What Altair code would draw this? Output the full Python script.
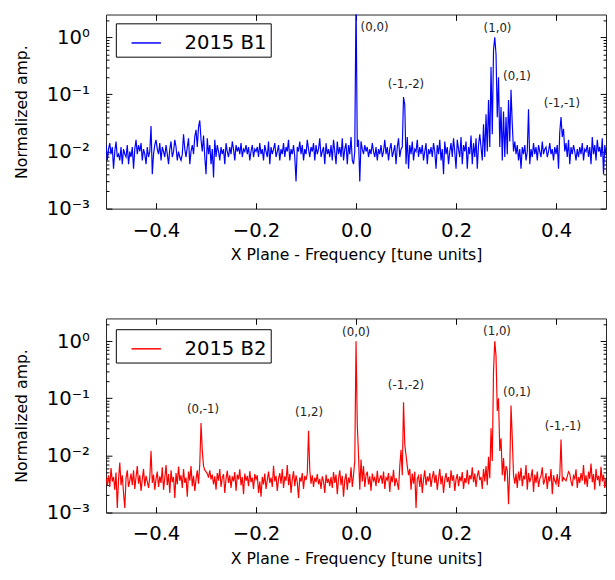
import altair as alt
import numpy as np
import pandas as pd

# Normalized spectrum amplitudes, read on a 0.0025 tune-unit grid from -0.5 to 0.5
B1_AMP = [
    0.013, 0.007, 0.011, 0.014, 0.009, 0.012, 0.005, 0.010, 0.015, 0.008, 0.009, 0.007, 0.012, 0.006, 0.011, 0.009, 0.008, 0.013, 0.006, 0.010,
    0.008, 0.012, 0.005, 0.011, 0.016, 0.009, 0.013, 0.010, 0.014, 0.007, 0.011, 0.009, 0.006, 0.012, 0.008, 0.010, 0.028, 0.004, 0.009, 0.013,
    0.016, 0.011, 0.009, 0.014, 0.007, 0.012, 0.010, 0.008, 0.013, 0.009, 0.006, 0.011, 0.015, 0.008, 0.010, 0.016, 0.012, 0.007, 0.010, 0.008,
    0.007, 0.009, 0.020, 0.011, 0.008, 0.012, 0.017, 0.006, 0.010, 0.013, 0.009, 0.018, 0.024, 0.012, 0.027, 0.035, 0.016, 0.010, 0.019, 0.008,
    0.004, 0.017, 0.009, 0.013, 0.006, 0.011, 0.0035, 0.016, 0.008, 0.013, 0.010, 0.007, 0.012, 0.009, 0.011, 0.006, 0.014, 0.010, 0.008, 0.012,
    0.009, 0.015, 0.011, 0.007, 0.013, 0.010, 0.012, 0.009, 0.014, 0.008, 0.011, 0.010, 0.013, 0.009, 0.012, 0.007, 0.010, 0.013, 0.008, 0.011,
    0.010, 0.012, 0.008, 0.014, 0.009, 0.011, 0.007, 0.013, 0.010, 0.008, 0.015, 0.006, 0.012, 0.009, 0.011, 0.014, 0.008, 0.010, 0.013, 0.007,
    0.011, 0.009, 0.014, 0.008, 0.012, 0.010, 0.016, 0.007, 0.011, 0.009, 0.013, 0.008, 0.003, 0.012, 0.010, 0.015, 0.009, 0.013, 0.007, 0.011,
    0.009, 0.016, 0.011, 0.008, 0.012, 0.010, 0.014, 0.007, 0.013, 0.009, 0.011, 0.017, 0.008, 0.010, 0.012, 0.006, 0.014, 0.009, 0.011, 0.008,
    0.013, 0.007, 0.016, 0.010, 0.006, 0.015, 0.009, 0.012, 0.008, 0.017, 0.007, 0.011, 0.014, 0.006, 0.013, 0.009, 0.018, 0.007, 0.006, 0.010,
    5.000, 0.012, 0.016, 0.003, 0.015, 0.011, 0.009, 0.013, 0.010, 0.012, 0.008, 0.011, 0.009, 0.014, 0.010, 0.008, 0.012, 0.007, 0.011, 0.009,
    0.013, 0.008, 0.010, 0.016, 0.009, 0.012, 0.007, 0.011, 0.014, 0.008, 0.010, 0.013, 0.006, 0.012, 0.017, 0.008, 0.011, 0.012, 0.090, 0.065,
    0.006, 0.018, 0.005, 0.013, 0.009, 0.015, 0.007, 0.011, 0.010, 0.016, 0.008, 0.012, 0.009, 0.013, 0.007, 0.010, 0.014, 0.006, 0.011, 0.009,
    0.012, 0.008, 0.014, 0.010, 0.005, 0.013, 0.009, 0.016, 0.007, 0.011, 0.004, 0.015, 0.009, 0.012, 0.006, 0.010, 0.014, 0.008, 0.017, 0.010,
    0.005, 0.016, 0.011, 0.008, 0.018, 0.006, 0.013, 0.010, 0.015, 0.005, 0.012, 0.009, 0.019, 0.006, 0.014, 0.008, 0.017, 0.005, 0.013, 0.020,
    0.012, 0.007, 0.030, 0.008, 0.045, 0.010, 0.080, 0.012, 0.300, 0.020, 0.600, 1.000, 0.500, 0.040, 0.200, 0.012, 0.060, 0.007, 0.050, 0.008,
    0.040, 0.009, 0.080, 0.015, 0.120, 0.030, 0.010, 0.015, 0.009, 0.013, 0.007, 0.011, 0.005, 0.012, 0.009, 0.013, 0.007, 0.010, 0.055, 0.006,
    0.011, 0.008, 0.014, 0.009, 0.012, 0.007, 0.013, 0.010, 0.008, 0.015, 0.009, 0.011, 0.012, 0.008, 0.010, 0.014, 0.009, 0.011, 0.007, 0.012,
    0.009, 0.013, 0.005, 0.022, 0.040, 0.018, 0.025, 0.010, 0.014, 0.008, 0.016, 0.006, 0.012, 0.009, 0.013, 0.010, 0.007, 0.011, 0.008, 0.012,
    0.009, 0.014, 0.007, 0.011, 0.010, 0.013, 0.008, 0.012, 0.006, 0.018, 0.009, 0.013, 0.007, 0.016, 0.010, 0.012, 0.008, 0.017, 0.004, 0.013,
    0.009,
]

B2_AMP = [
    0.0040, 0.0030, 0.0045, 0.0028, 0.0060, 0.0035, 0.0042, 0.0025, 0.0050, 0.0012, 0.0038, 0.0075, 0.0030, 0.0045, 0.0022, 0.0012, 0.0040, 0.0055, 0.0028, 0.0036,
    0.0048, 0.0030, 0.0055, 0.0026, 0.0042, 0.0065, 0.0032, 0.0045, 0.0024, 0.0038, 0.0058, 0.0029, 0.0044, 0.0035, 0.0027, 0.0041, 0.0120, 0.0033, 0.0046, 0.0025,
    0.0039, 0.0052, 0.0028, 0.0043, 0.0033, 0.0062, 0.0025, 0.0040, 0.0068, 0.0030, 0.0047, 0.0022, 0.0055, 0.0034, 0.0042, 0.0018, 0.0049, 0.0031, 0.0064, 0.0036,
    0.0045, 0.0027, 0.0058, 0.0033, 0.0041, 0.0019, 0.0052, 0.0036, 0.0065, 0.0029, 0.0044, 0.0024, 0.0038, 0.0055, 0.0032, 0.0070, 0.0370, 0.0120, 0.0065, 0.0055,
    0.0052, 0.0048, 0.0041, 0.0055, 0.0038, 0.0046, 0.0031, 0.0043, 0.0025, 0.0049, 0.0036, 0.0058, 0.0028, 0.0041, 0.0047, 0.0022, 0.0039, 0.0054, 0.0033, 0.0045,
    0.0027, 0.0043, 0.0035, 0.0051, 0.0024, 0.0046, 0.0038, 0.0057, 0.0030, 0.0042, 0.0021, 0.0048, 0.0036, 0.0044, 0.0029, 0.0053, 0.0034, 0.0041, 0.0026, 0.0047,
    0.0038, 0.0045, 0.0022, 0.0035, 0.0019, 0.0042, 0.0031, 0.0048, 0.0026, 0.0037, 0.0052, 0.0033, 0.0041, 0.0028, 0.0066, 0.0035, 0.0044, 0.0024, 0.0039, 0.0049,
    0.0032, 0.0058, 0.0027, 0.0043, 0.0036, 0.0068, 0.0030, 0.0047, 0.0022, 0.0038, 0.0053, 0.0029, 0.0045, 0.0034, 0.0018, 0.0041, 0.0035, 0.0049, 0.0026, 0.0044,
    0.0037, 0.0048, 0.0270, 0.0055, 0.0032, 0.0045, 0.0028, 0.0041, 0.0034, 0.0047, 0.0031, 0.0039, 0.0026, 0.0043, 0.0035, 0.0022, 0.0046, 0.0033, 0.0039, 0.0029,
    0.0042, 0.0027, 0.0051, 0.0033, 0.0046, 0.0021, 0.0039, 0.0055, 0.0030, 0.0044, 0.0019, 0.0037, 0.0048, 0.0025, 0.0041, 0.0033, 0.0062, 0.0028, 0.0045, 0.0080,
    1.0000, 0.0350, 0.0100, 0.0025, 0.0085, 0.0035, 0.0065, 0.0028, 0.0045, 0.0052, 0.0031, 0.0043, 0.0024, 0.0048, 0.0036, 0.0041, 0.0029, 0.0054, 0.0033, 0.0039,
    0.0045, 0.0032, 0.0052, 0.0026, 0.0041, 0.0037, 0.0049, 0.0023, 0.0044, 0.0034, 0.0056, 0.0029, 0.0040, 0.0033, 0.0025, 0.0065, 0.0125, 0.0045, 0.0850, 0.0155,
    0.0100, 0.0065, 0.0045, 0.0058, 0.0025, 0.0048, 0.0032, 0.0052, 0.0012, 0.0039, 0.0044, 0.0028, 0.0047, 0.0022, 0.0038, 0.0055, 0.0030, 0.0043, 0.0035, 0.0049,
    0.0028, 0.0041, 0.0053, 0.0033, 0.0046, 0.0025, 0.0039, 0.0058, 0.0031, 0.0044, 0.0022, 0.0037, 0.0049, 0.0034, 0.0042, 0.0027, 0.0055, 0.0036, 0.0045, 0.0024,
    0.0038, 0.0047, 0.0029, 0.0043, 0.0035, 0.0051, 0.0026, 0.0040, 0.0033, 0.0056, 0.0031, 0.0045, 0.0038, 0.0062, 0.0034, 0.0048, 0.0028, 0.0044, 0.0055, 0.0037,
    0.0042, 0.0026, 0.0058, 0.0035, 0.0065, 0.0030, 0.0095, 0.0040, 0.0300, 0.0080, 0.3000, 1.0000, 0.5500, 0.0600, 0.1000, 0.0120, 0.0200, 0.0045, 0.0090, 0.0035,
    0.0065, 0.0055, 0.0014, 0.0060, 0.0750, 0.0200, 0.0045, 0.0032, 0.0048, 0.0027, 0.0052, 0.0036, 0.0061, 0.0029, 0.0044, 0.0038, 0.0068, 0.0025, 0.0049, 0.0034,
    0.0041, 0.0057, 0.0023, 0.0046, 0.0033, 0.0052, 0.0028, 0.0039, 0.0044, 0.0062, 0.0031, 0.0037, 0.0049, 0.0026, 0.0043, 0.0035, 0.0058, 0.0021, 0.0045, 0.0036,
    0.0032, 0.0047, 0.0028, 0.0045, 0.0190, 0.0035, 0.0041, 0.0038, 0.0036, 0.0043, 0.0052, 0.0048, 0.0035, 0.0029, 0.0044, 0.0039, 0.0057, 0.0027, 0.0042, 0.0033,
    0.0049, 0.0036, 0.0068, 0.0031, 0.0045, 0.0028, 0.0052, 0.0039, 0.0072, 0.0034, 0.0047, 0.0025, 0.0058, 0.0037, 0.0044, 0.0029, 0.0063, 0.0035, 0.0046, 0.0027,
    0.0040,
]

B1_NAME = "2015 B1"
B2_NAME = "2015 B2"

B1_LABELS = ["(0,0)", "(-1,-2)", "(1,0)", "(0,1)", "(-1,-1)"]
B1_LABEL_X = [0.037, 0.100, 0.283, 0.322, 0.412]
B1_LABEL_Y = [1.50, 0.150, 1.47, 0.213, 0.071]

B2_LABELS = ["(0,-1)", "(1,2)", "(0,0)", "(-1,-2)", "(1,0)", "(0,1)", "(-1,-1)"]
B2_LABEL_X = [-0.306, -0.094, 0.000, 0.100, 0.282, 0.322, 0.414]
B2_LABEL_Y = [0.066, 0.058, 1.44, 0.168, 1.53, 0.128, 0.0326]

X_TICKS = [-0.4, -0.2, 0.0, 0.2, 0.4]
Y_MAJOR = [0.001, 0.01, 0.1, 1.0]
Y_MINOR = [0.002, 0.003, 0.004, 0.005, 0.006, 0.007, 0.008, 0.009,
           0.02, 0.03, 0.04, 0.05, 0.06, 0.07, 0.08, 0.09,
           0.2, 0.3, 0.4, 0.5, 0.6, 0.7, 0.8, 0.9, 2.0]

X_DOMAIN = [-0.5, 0.5]
Y_DOMAIN = [0.001, 2.5]

W, H = 510, 198
FONT = "DejaVu Sans"

Y_LABEL_EXPR = ("datum.value >= 0.5 ? '10\u2070' : datum.value >= 0.05 ? '10\u207b\u00b9' : "
                "datum.value >= 0.005 ? '10\u207b\u00b2' : '10\u207b\u00b3'")


def tick_axis(orient, values, size):
    return alt.Axis(orient=orient, values=values, ticks=True, tickSize=size, offset=-size,
                    labels=False, domain=False, grid=False, title=None,
                    tickColor="#000000", tickWidth=1, minExtent=0, maxExtent=size)


def panel(amp, name, color, labels, lx, ly, legend_y):
    freq = np.linspace(X_DOMAIN[0], X_DOMAIN[1], len(amp))
    df = pd.DataFrame({"freq": freq, "amp": amp, "beam": name})
    tdf = pd.DataFrame({"label": labels, "x": lx, "y": ly})
    xs = alt.Scale(domain=X_DOMAIN, nice=False, zero=False)
    ys = alt.Scale(type="log", domain=Y_DOMAIN, nice=False)
    base = alt.Chart(df)

    line = base.mark_line(clip=True, strokeWidth=1.2).encode(
        x=alt.X("freq:Q", scale=xs, axis=alt.Axis(
            orient="bottom", values=X_TICKS, format=".1f",
            title="X Plane - Frequency [tune units]", ticks=False, tickSize=0,
            domain=False, grid=False, labelFontSize=20, labelPadding=12,
            titleFontSize=16, titlePadding=7, labelFont=FONT, titleFont=FONT,
            titleFontWeight="normal", labelColor="#000000", titleColor="#000000")),
        y=alt.Y("amp:Q", scale=ys, axis=alt.Axis(
            orient="left", values=Y_MAJOR, labelExpr=Y_LABEL_EXPR,
            title="Normalized amp.", ticks=False, tickSize=0, domain=False,
            grid=False, labelFontSize=20, labelPadding=17, minExtent=60,
            maxExtent=60, titleFontSize=16, titlePadding=18, labelFont=FONT,
            titleFont=FONT, titleFontWeight="normal", labelColor="#000000",
            titleColor="#000000")),
        color=alt.Color("beam:N", scale=alt.Scale(domain=[name], range=[color]),
                        legend=alt.Legend(
                            title=None, orient="none", legendX=10, legendY=legend_y,
                            strokeColor="#000000", fillColor="#ffffff", padding=4,
                            symbolType="stroke", symbolSize=900, symbolStrokeWidth=1.5,
                            symbolOffset=11, labelFontSize=20, labelOffset=23,
                            labelColor="#000000", labelFont=FONT, cornerRadius=0)),
    )

    text = alt.Chart(tdf).mark_text(fontSize=12, color="#222222", font=FONT).encode(
        x=alt.X("x:Q", scale=xs, axis=tick_axis("top", X_TICKS, 6)),
        y=alt.Y("y:Q", scale=ys, axis=tick_axis("left", Y_MAJOR, 6)),
        text="label:N",
    )

    ghost1 = base.mark_line(clip=True, strokeOpacity=0).encode(
        x=alt.X("freq:Q", scale=xs, axis=tick_axis("bottom", X_TICKS, 6)),
        y=alt.Y("amp:Q", scale=ys, axis=tick_axis("right", Y_MAJOR, 6)),
    )
    ghost2 = base.mark_line(clip=True, strokeOpacity=0).encode(
        x=alt.X("freq:Q", scale=xs, axis=None),
        y=alt.Y("amp:Q", scale=ys, axis=tick_axis("left", Y_MINOR, 3)),
    )
    ghost3 = base.mark_line(clip=True, strokeOpacity=0).encode(
        x=alt.X("freq:Q", scale=xs, axis=None),
        y=alt.Y("amp:Q", scale=ys, axis=tick_axis("right", Y_MINOR, 3)),
    )

    return alt.layer(line, text, ghost1, ghost2, ghost3).resolve_axis(
        x="independent", y="independent").properties(width=W, height=H)


p1 = panel(B1_AMP, B1_NAME, "#0000ff", B1_LABELS, B1_LABEL_X, B1_LABEL_Y, 9)
p2 = panel(B2_AMP, B2_NAME, "#ff0000", B2_LABELS, B2_LABEL_X, B2_LABEL_Y, 11)

chart = alt.vconcat(p1, p2, spacing=55).resolve_scale(
    color="independent").resolve_legend(color="independent").properties(
    padding={"left": 5, "top": 0, "right": 0, "bottom": 0}
).configure(font=FONT).configure_view(stroke="#222222", strokeWidth=1)

chart.save("out.html", embed_options={"renderer": "svg", "actions": False})
